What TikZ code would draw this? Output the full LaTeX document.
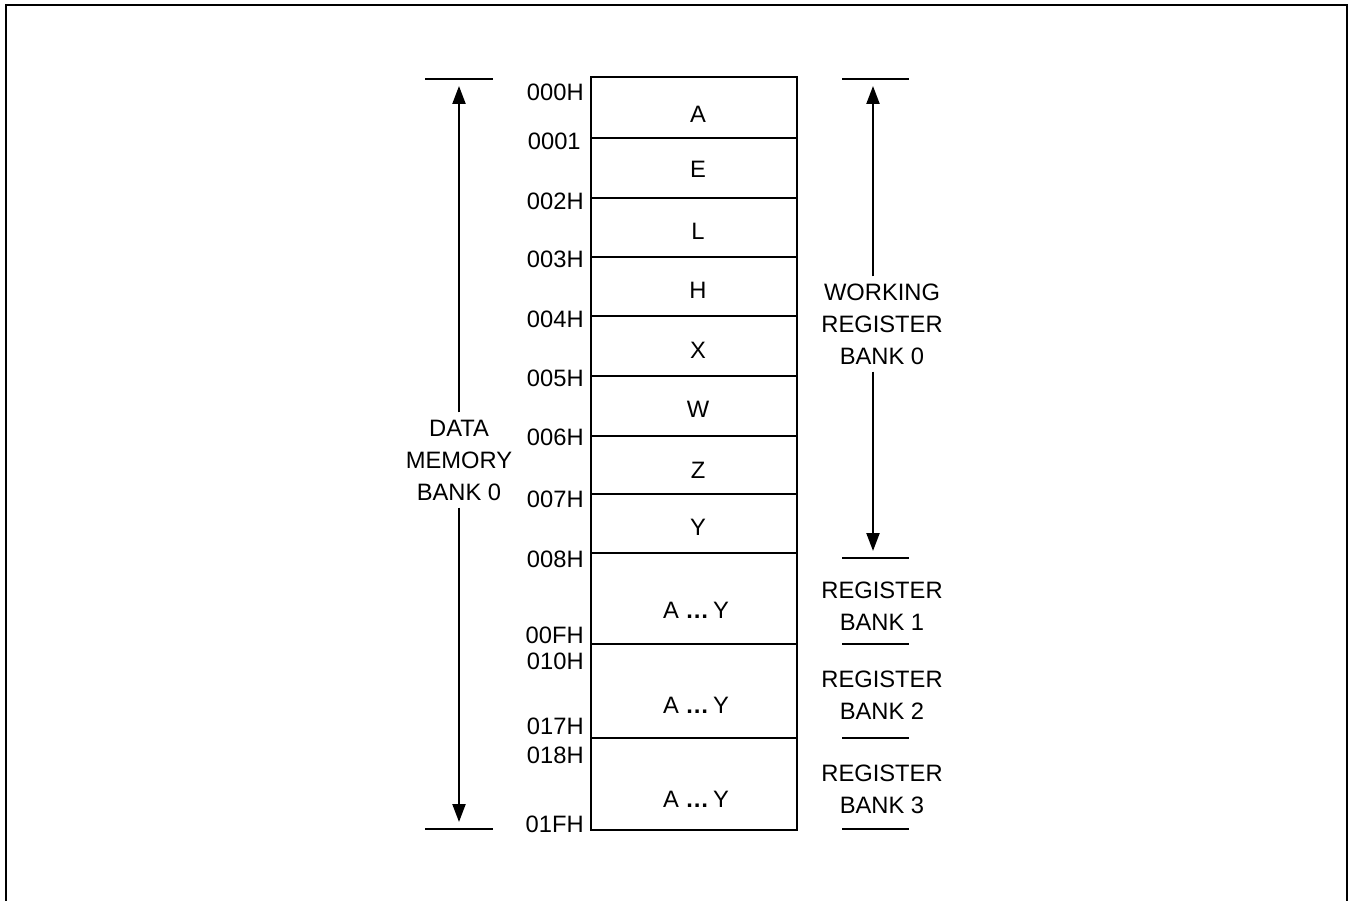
\documentclass[tikz,border=0pt]{standalone}
\usepackage{fontspec}
\setmainfont{Liberation Sans}
\usepackage{tikz}
\usetikzlibrary{arrows.meta, positioning}

\begin{document}
\begin{tikzpicture}[
    x=0.02cm, y=-0.02cm,
    every node/.style={font=\fontsize{13.5}{18.2}\selectfont},
    addr/.style={anchor=east, inner sep=0pt},
    celltext/.style={inner sep=0pt},
    banklabel/.style={align=center, inner sep=0.14cm},
    line/.style={line width=1.25pt},
    frame/.style={line width=1.4pt},
    dimarrow/.style={line width=1.25pt, shorten >=0.14cm,
                     -{Triangle[length=0.36cm, width=0.26cm]}}
]
    \useasboundingbox (0,0) rectangle (1351,901);
    \draw[frame] (6,940) -- (6,5) -- (1347,5) -- (1347,940);

    % memory map
    \draw[line] (591,77) rectangle (797,830)
        (591,138) -- (797,138) (591,198) -- (797,198)
        (591,257) -- (797,257) (591,316) -- (797,316)
        (591,376) -- (797,376) (591,436) -- (797,436)
        (591,494) -- (797,494) (591,553) -- (797,553)
        (591,644) -- (797,644) (591,738) -- (797,738);

    \node[celltext] (cA) at (698,114) {A};
    \node[celltext] (cE) at (698,169) {E};
    \node[celltext] (cL) at (698,231) {L};
    \node[celltext] (cH) at (698,290) {H};
    \node[celltext] (cX) at (698,350) {X};
    \node[celltext] (cW) at (698,409) {W};
    \node[celltext] (cZ) at (698,470) {Z};
    \node[celltext] (cY) at (698,527) {Y};
    \node[celltext] (bank1) at (696,610) {A \textbf{\ldots}\,Y};
    \node[celltext] (bank2) at (696,705) {A \textbf{\ldots}\,Y};
    \node[celltext] (bank3) at (696,799) {A \textbf{\ldots}\,Y};

    % addresses
    \node[addr] (a000) at (584,92) {000H};
    \node[addr] (a001) at (581,141) {0001};
    \node[addr] (a002) at (584,201) {002H};
    \node[addr] (a003) at (584,259) {003H};
    \node[addr] (a004) at (584,319) {004H};
    \node[addr] (a005) at (584,378) {005H};
    \node[addr] (a006) at (584,437) {006H};
    \node[addr] (a007) at (584,499) {007H};
    \node[addr] (a008) at (584,559) {008H};
    \node[addr] (a00F) at (584,635) {00FH};
    \node[addr] (a010) at (584,661) {010H};
    \node[addr] (a017) at (584,726) {017H};
    \node[addr] (a018) at (584,755) {018H};
    \node[addr] (a01F) at (584,824) {01FH};

    % data memory bank 0
    \coordinate (ltop) at (459,79);
    \coordinate (lbot) at (459,829);
    \draw[line] ([xshift=-0.68cm]ltop) -- ([xshift=0.68cm]ltop);
    \draw[line] ([xshift=-0.68cm]lbot) -- ([xshift=0.68cm]lbot);
    \node[banklabel] (dmem) at (459,460) {DATA\\MEMORY\\BANK 0};
    \draw[dimarrow] (dmem) -- (ltop);
    \draw[dimarrow] (dmem) -- (lbot);

    % working register bank 0
    \coordinate (rtop) at (873,79);
    \coordinate (rbot) at (873,558);
    \draw[line] ([xshift=-0.62cm]rtop) -- ([xshift=0.72cm]rtop);
    \draw[line] ([xshift=-0.62cm]rbot) -- ([xshift=0.72cm]rbot);
    \node[banklabel] (wrk) at (882,324) {WORKING\\REGISTER\\BANK 0};
    \draw[dimarrow] (wrk.north -| rtop) -- (rtop);
    \draw[dimarrow] (wrk.south -| rtop) -- (rbot);

    % register banks 1-3
    \node[banklabel] (rb1) at (882,606) {REGISTER\\BANK 1};
    \node[banklabel] (rb2) at (882,695) {REGISTER\\BANK 2};
    \node[banklabel] (rb3) at (882,789) {REGISTER\\BANK 3};
    \draw[line] (842,644) -- (909,644);
    \draw[line] (842,738) -- (909,738);
    \draw[line] (842,829) -- (909,829);
\end{tikzpicture}
\end{document}
